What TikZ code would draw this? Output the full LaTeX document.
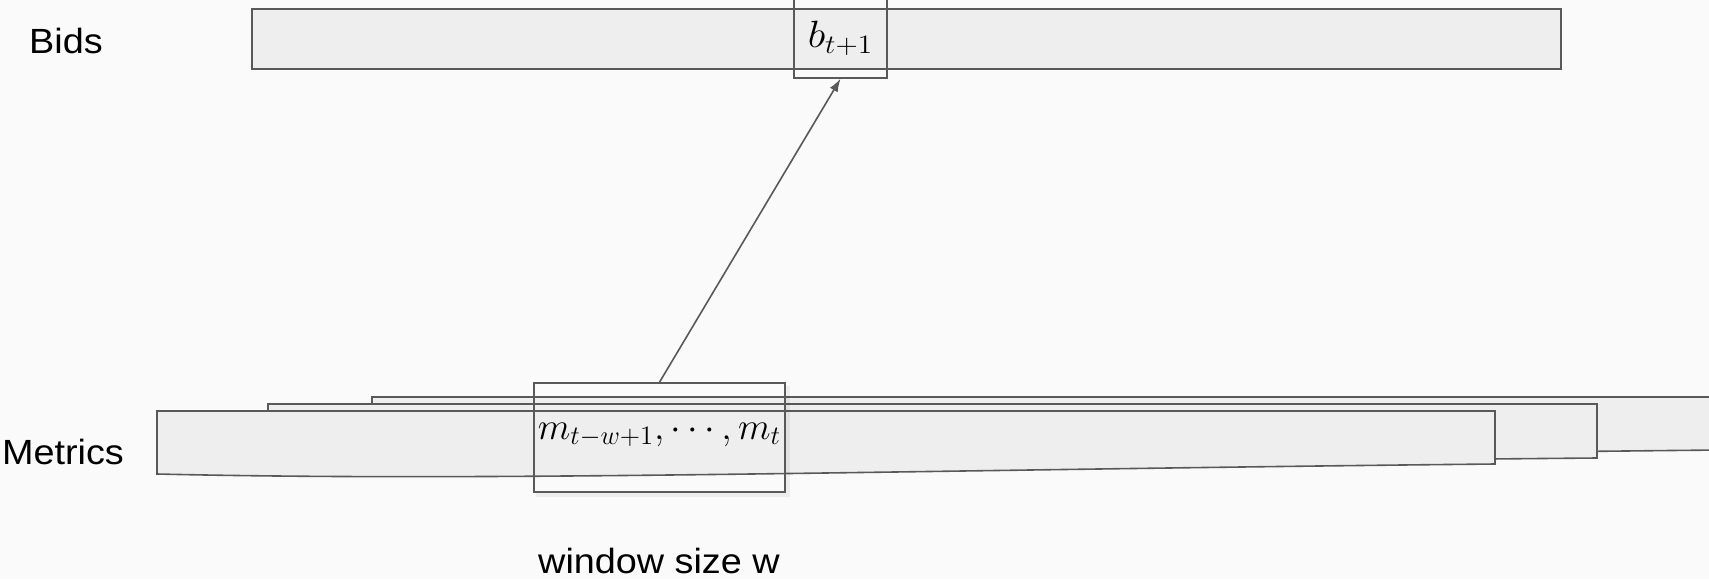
\RequirePackage{fix-cm}
\documentclass[tikz,border=0pt]{standalone}
\usepackage[no-math]{fontspec}
\newfontfamily\labelfont{Liberation Sans}
\usetikzlibrary{arrows.meta}
\definecolor{edge}{HTML}{595959}
\definecolor{barfill}{HTML}{EEEEEE}
\definecolor{paper}{HTML}{FAFAFA}
\newcommand\widen[1]{\scalebox{1.08}[1]{#1}}
\begin{document}
\begin{tikzpicture}[x=0.5pt,y=-0.5pt,
  bar/.style={draw=edge,fill=barfill,line width=0.8pt,line join=miter},
  frame/.style={draw=edge,line width=0.8pt,rectangle,inner sep=0pt},
  link/.style={draw=edge,line width=0.8pt,-{Latex[length=6.5pt,width=4.5pt]}},
  label/.style={font=\labelfont\fontsize{17.5}{20}\selectfont,anchor=base,text=black},
  formula/.style={font=\fontsize{19}{23}\selectfont,anchor=base,inner sep=0pt},
  halo/.style={draw=black,line width=2pt,opacity=0.05}]
\fill[paper] (0,0) rectangle (1709,579);
\useasboundingbox (0,0) rectangle (1709,579);
\clip (0,0) rectangle (1709,579);

% row labels
\node[label] (bidslabel) at (66,53) {\widen{Bids}};
\node[label] (metricslabel) at (63,464) {\widen{Metrics}};

% bid sequence
\draw[bar] (252,8.7) rectangle (1561,69);
\node[frame,minimum width=46.5pt,minimum height=41pt] (bt) at (840.5,37) {};
\node[formula] (btext) at (840.5,47.5) {\scalebox{1.1}[1]{$b_{t+1}$}};

% stacked metric sequences, back to front
\draw[bar] (372,397) -- (1720,397) -- (1720,450)
  .. controls (1115,456) and (715,467) .. (372,460) -- cycle;
\draw[bar] (268,404) -- (1597,404) -- (1597,458)
  .. controls (1011,463) and (611,475) .. (268,467) -- cycle;
\draw[bar] (157,411) -- (1495,411) -- (1495,464)
  .. controls (900,470) and (500,482) .. (157,474) -- cycle;

% sliding window over the metrics, with a soft shadow along its lower edge
\draw[halo] (536,495) -- (788,495) -- (788,386);
\node[frame,minimum width=125.5pt,minimum height=54.5pt] (win) at (659.5,437.5) {};
\node[formula] (mtext) at (659.5,439) {$m_{t-w+1},\cdots,m_t$};
\node[label] (winlabel) at (659,573) {\widen{window size w}};

% prediction link
\draw[link] (win.north) -- (bt.south);
\end{tikzpicture}
\end{document}
